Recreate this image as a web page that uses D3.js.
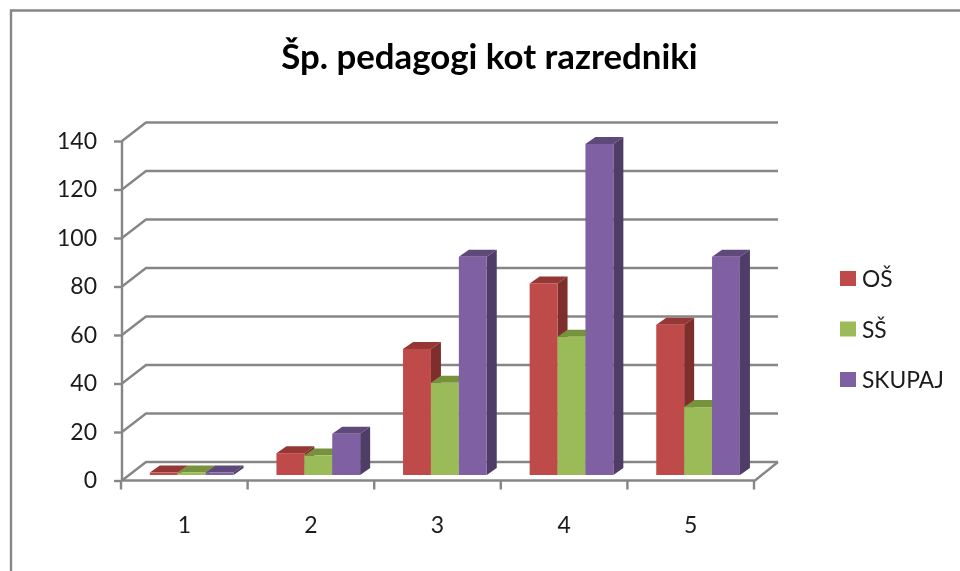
<!DOCTYPE html>
<html><head><meta charset="utf-8">
<script src="https://cdn.jsdelivr.net/npm/d3@7"></script>
<style>html,body{margin:0;padding:0;background:#fff}svg{display:block}text{font-family:Lato,"Open Sans",sans-serif;fill:#1a1a1a}</style>
</head><body><svg id="c" width="960" height="571"></svg>
<script>
const categories = ["1","2","3","4","5"];
const seriesNames = ["OŠ","SŠ","SKUPAJ"];
const osValues = [1,9,52,79,62];
const ssValues = [1,8,38,57,28];
const skupajValues = [1,17,90,136.5,90];
const yTicks = [0,20,40,60,80,100,120,140];
const frontColors = ["#BE4B48","#9BBB59","#7F60A2"];
const topColors = ["#953735","#76923C","#5F497A"];
const sideColors = ["#7F2F2D","#6A8435","#4F3D68"];
const titleText = "Šp. pedagogi kot razredniki";

const svg = d3.select("#c");
const defs = svg.append("defs");
defs.append("filter").attr("id","soft").attr("x",0).attr("y",0).attr("width",1).attr("height",1)
  .append("feGaussianBlur").attr("stdDeviation",0.65);
const root = svg.append("g").attr("filter","url(#soft)");
root.append("rect").attr("width",960).attr("height",571).attr("fill","#fff");

const gray = "#868686";
// outer frame
root.append("path").attr("d","M11,571V10.5H960").attr("fill","none").attr("stroke",gray).attr("stroke-width",2.4);

const x = d3.scaleBand().domain(categories).range([121,754]);
const y = d3.scaleLinear().domain([0,140]).range([480.5,141]);
const wallDx = 24, wallDy = 18.5, floorRight = x.range()[1]+1;
const barShiftX = 7.4, barShiftY = 5.5, barDx = 10, barDy = 7;
const groupW = 83.7, subW = groupW/3;

// walls
const grid = root.append("g").attr("fill","none").attr("stroke",gray).attr("stroke-width",2.4);
yTicks.forEach(t=>{
  grid.append("path").attr("d",`M122,${y(t)}L${122+wallDx},${y(t)-wallDy}H${floorRight+wallDx-1}`);
});
grid.append("path").attr("d",`M122,${y(0)}H${floorRight}L${floorRight+wallDx-1},${y(0)-wallDy}`);
grid.append("path").attr("d",`M122,${y(140)}V${y(0)}`);

// y axis
const yAxis = root.append("g").attr("transform","translate(122,0)")
  .call(d3.axisLeft(y).tickValues(yTicks).tickSize(8).tickPadding(17));
yAxis.select(".domain").remove();
yAxis.selectAll("line").attr("stroke",gray).attr("stroke-width",2.4);
yAxis.selectAll("text").attr("font-size",23).style("font-family","Lato").attr("fill","#1a1a1a");

// x axis: labels from the band scale, ticks on band edges
const xAxis = root.append("g").attr("transform",`translate(0,${y(0)})`)
  .call(d3.axisBottom(x).tickSize(0).tickPadding(36));
xAxis.select(".domain").remove();
xAxis.selectAll("text").attr("font-size",23).style("font-family","Lato").attr("fill","#1a1a1a");
root.append("g").selectAll("line").data(categories.concat(["end"])).join("line")
  .attr("x1",(d,i)=>i<5?x(d):x.range()[1]).attr("x2",(d,i)=>i<5?x(d):x.range()[1])
  .attr("y1",y(0)).attr("y2",y(0)+9).attr("stroke",gray).attr("stroke-width",2.4);

// bars
const allSeries = [osValues,ssValues,skupajValues];
categories.forEach((c,ci)=>{
  const left = x(c)+(x.bandwidth()-groupW)/2+barShiftX;
  const base = y(0)-barShiftY;
  allSeries.forEach((vals,si)=>{
    const g = root.append("g");
    const x0 = left+si*subW, x1 = x0+subW;
    const top = y(vals[ci])-barShiftY;
    g.append("path").attr("fill",topColors[si])
      .attr("d",`M${x0},${top}L${x0+barDx},${top-barDy}H${x1+barDx}L${x1},${top}Z`);
    g.append("path").attr("fill",sideColors[si])
      .attr("d",`M${x1},${top}L${x1+barDx},${top-barDy}V${base-barDy}L${x1},${base}Z`);
    g.append("rect").attr("x",x0).attr("y",top).attr("width",subW).attr("height",base-top).attr("fill",frontColors[si]);
  });
});

// title
root.append("text").attr("x",489.5).attr("y",68.5).attr("text-anchor","middle")
  .attr("font-size",34.8).attr("font-weight",700).attr("fill","#000").style("fill","#000").text(titleText);

// legend
const legendY = d3.scalePoint().domain(seriesNames).range([278.5,379.5]);
const leg = root.append("g").selectAll("g").data(seriesNames).join("g")
  .attr("transform",d=>`translate(840,${legendY(d)})`);
leg.append("rect").attr("y",-7.5).attr("width",16).attr("height",15).attr("fill",(d,i)=>frontColors[i]);
leg.append("text").attr("x",22).attr("y",8.5).attr("font-size",22.8).text(d=>d);
</script></body></html>
